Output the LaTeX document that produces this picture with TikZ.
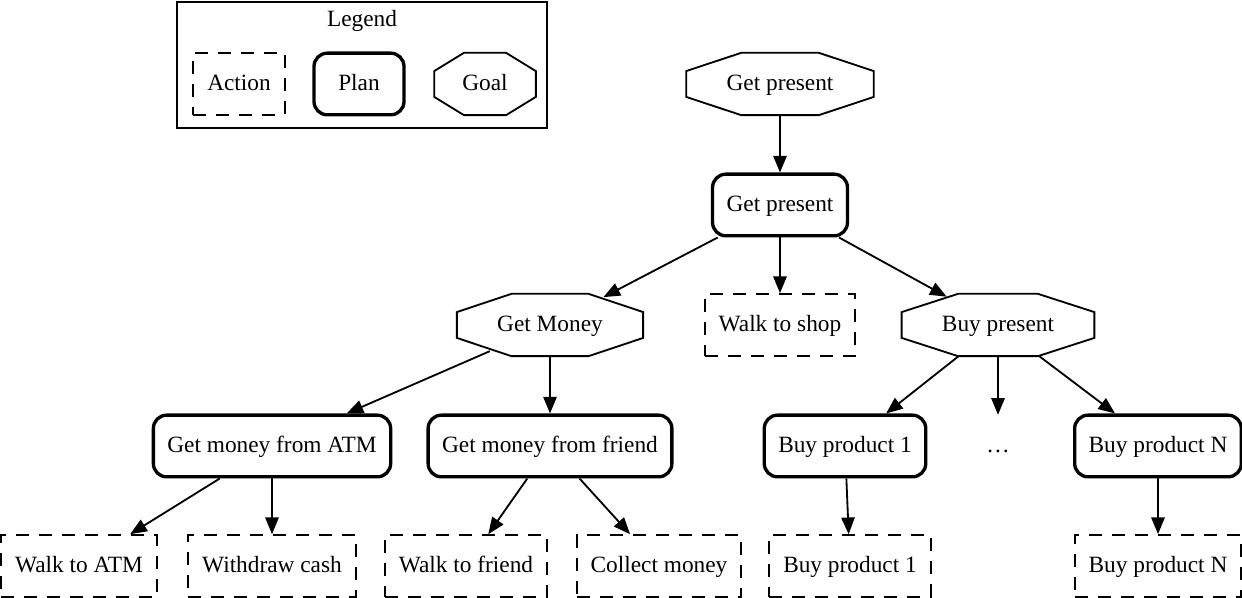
\documentclass[tikz,border=0pt]{standalone}
\usepackage{fontspec}
\setmainfont{Liberation Serif}
\usetikzlibrary{positioning,arrows.meta,calc}

\begin{document}
\begin{tikzpicture}[x=0.6pt, y=-0.6pt, on grid, >={Triangle[length=10pt,width=8pt]},
    every node/.style={font=\fontsize{14pt}{16pt}\selectfont, minimum height=37pt, inner ysep=0pt, text height=11pt, text depth=3pt},
    action/.style={draw, line width=1.2pt, dash pattern=on 7.8pt off 6pt, inner xsep=8.4pt, minimum width=54pt},
    plan/.style={draw, line width=2pt, rounded corners=8pt, inner xsep=8.4pt, minimum width=54pt},
    goal/.style={inner xsep=24pt},
    edge/.style={->, line width=1.1pt}]

    \useasboundingbox (0,0) rectangle (1242,598);

    %Legend
    \node   (legend) [draw, line width=1.3pt, minimum width=222pt, minimum height=75.6pt] at (362,65) {};
    \node   (lgdtitle) [minimum height=0pt] at (362,20) {Legend};
    \node   (laction) [action, minimum width=54.6pt] at (239,84) {Action};
    \node   (lplan) [plan] at (359,84) {Plan};
    \node   (lgoal) [goal, inner xsep=0pt, minimum width=60.6pt] at (485,84) {Goal};

    %Nodes
    \node   (goal) [goal] at (780,84) {Get present};
    \node   (plan) [plan, below=72.6pt of goal] {Get present};
    \node   (money) [goal, below left=72pt and 138pt of plan] {Get Money};
    \node   (shop) [action, below=72pt of plan] {Walk to shop};
    \node   (buy) [goal, below right=72pt and 130.8pt of plan] {Buy present};
    \node   (atm) [plan, below left=72.6pt and 166.8pt of money] {Get money from ATM};
    \node   (friend) [plan, below=72.6pt of money] {Get money from friend};
    \node   (prodA) [plan, below left=72.6pt and 91.8pt of buy] {Buy product 1};
    \node   (dots) [below=72.6pt of buy] {\dots};
    \node   (prodN) [plan, below right=72.6pt and 96pt of buy] {Buy product N};
    \node   (walkatm) [action, below left=72pt and 115.8pt of atm] {Walk to ATM};
    \node   (withdraw) [action, below=72pt of atm] {Withdraw cash};
    \node   (walkfriend) [action, below left=72pt and 50.4pt of friend] {Walk to friend};
    \node   (collect) [action, below right=72pt and 65.4pt of friend] {Collect money};
    \node   (buyA) [action, below right=72pt and 3pt of prodA] {Buy product 1};
    \node   (buyN) [action, below=72pt of prodN] {Buy product N};

    %Octagons
    \foreach \n in {lgoal, goal, money, buy}
        \draw[line width=1.1pt]
            ($(\n.north west)!0.293!(\n.north east)$)
         -- ($(\n.north west)!0.707!(\n.north east)$)
         -- ($(\n.north east)!0.293!(\n.south east)$)
         -- ($(\n.north east)!0.707!(\n.south east)$)
         -- ($(\n.south east)!0.293!(\n.south west)$)
         -- ($(\n.south east)!0.707!(\n.south west)$)
         -- ($(\n.south west)!0.293!(\n.north west)$)
         -- ($(\n.south west)!0.707!(\n.north west)$)
         -- cycle;

    %Lines
    \draw[edge] (goal) -- (plan);
    \draw[edge, shorten >=-4.3pt] (plan) -- (money);
    \draw[edge] (plan) -- (shop);
    \draw[edge, shorten >=-3.6pt] (plan) -- (buy);
    \draw[edge, shorten <=-7.5pt] (money) -- (atm);
    \draw[edge] (money) -- (friend);
    \draw[edge] (buy) -- (prodA);
    \draw[edge] (buy) -- (dots);
    \draw[edge] (buy) -- (prodN);
    \draw[edge] (atm) -- (walkatm);
    \draw[edge] (atm) -- (withdraw);
    \draw[edge] (friend) -- (walkfriend);
    \draw[edge] (friend) -- (collect);
    \draw[edge] (prodA) -- (buyA);
    \draw[edge] (prodN) -- (buyN);

\end{tikzpicture}
\end{document}
